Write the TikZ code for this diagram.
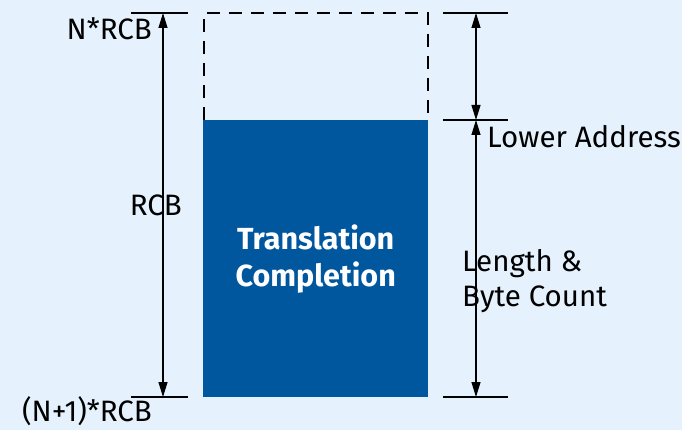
\documentclass[tikz,border=0pt]{standalone}
\usepackage{fontspec}
\setmainfont{Fira Sans}
\usetikzlibrary{arrows.meta}
\definecolor{bgc}{HTML}{E5F2FD}
\definecolor{boxblue}{HTML}{00579E}
\tikzset{
  tick/.style={line width=1.6pt},
  dim/.style={line width=1.2pt, {Triangle[length=15pt,width=9pt]}-{Triangle[length=15pt,width=9pt]}},
  lbl/.style={font=\fontsize{29.5}{35}\selectfont, inner sep=0pt, text=black},
}
\begin{document}
\begin{tikzpicture}[x=1pt,y=-1pt]
\fill[bgc] (0,0) rectangle (682,430);
\useasboundingbox (0,0) rectangle (682,430);
% dashed box
\draw[line width=1.6pt, dash pattern=on 13pt off 9pt] (204,120) -- (204,13) -- (428,13) -- (428,120);
% blue box
\node[fill=boxblue, minimum width=225pt, minimum height=277pt, inner sep=0pt, anchor=north west,
      text=white, align=center, font=\bfseries\fontsize{30.5}{37}\selectfont] (tc) at (203,120) {Translation\\Completion};
% left ticks
\coordinate (lt1) at (131,13); \coordinate (lt2) at (188,13);
\coordinate (lb1) at (131,397); \coordinate (lb2) at (188,397);
\draw[tick] (lt1) -- (lt2);
\draw[tick] (lb1) -- (lb2);
\coordinate (la) at (163,13); \coordinate (lb) at (163,397);
\draw[dim] (la) -- (lb);
% right ticks
\coordinate (rt1) at (443,13); \coordinate (rt2) at (508,13);
\coordinate (rm1) at (443,120); \coordinate (rm2) at (508,120);
\coordinate (rb1) at (443,397); \coordinate (rb2) at (508,397);
\draw[tick] (rt1) -- (rt2);
\draw[tick] (rm1) -- (rm2);
\draw[tick] (rb1) -- (rb2);
\coordinate (ra) at (476,13); \coordinate (rm) at (476,120); \coordinate (rb) at (476,397);
\draw[dim] (ra) -- (rm);
\draw[dim] (rm) -- (rb);
% labels
\node[lbl, anchor=east] (n1) at (152,29) {N*RCB};
\node[lbl, anchor=east] (n2) at (152,411.5) {(N+1)*RCB};
\node[lbl, anchor=east] (n3) at (182,205) {RCB};
\node[lbl, anchor=west] (n4) at (487,137) {Lower Address};
\node[lbl, anchor=west, align=left] (n5) at (462,281) {Length \&\\Byte Count};
\end{tikzpicture}
\end{document}
